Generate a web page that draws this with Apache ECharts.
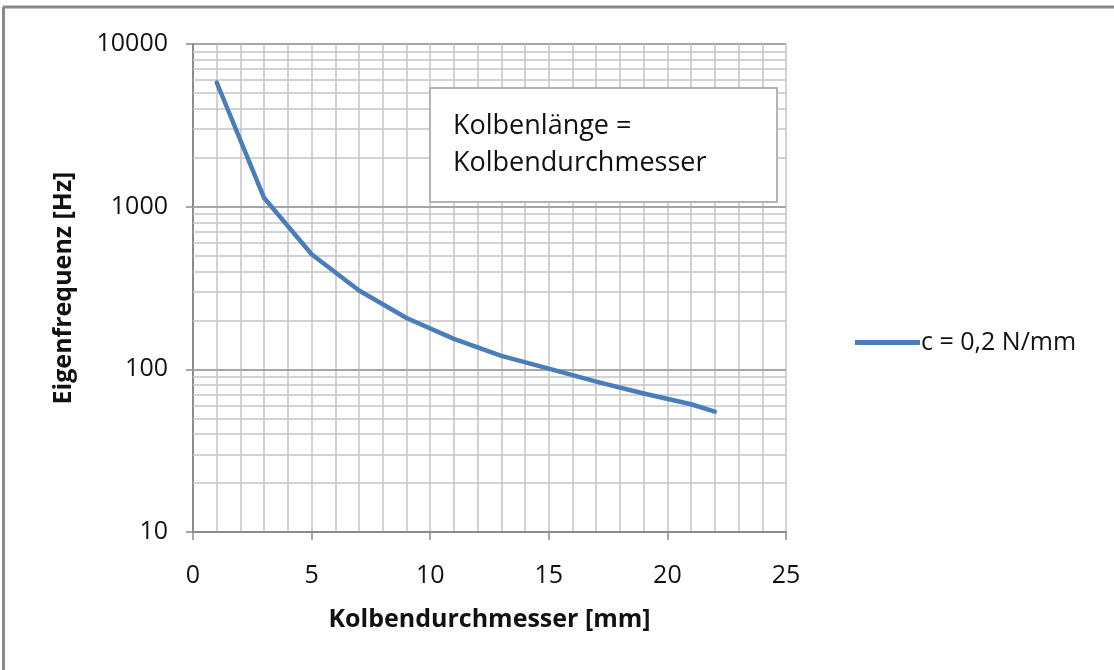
<!DOCTYPE html>
<html>
<head>
<meta charset="utf-8">
<script src="https://cdn.jsdelivr.net/npm/echarts@6/dist/echarts.min.js"></script>
<style>
html,body{margin:0;padding:0;background:#fff;}
#chart{width:1114px;height:670px;}
</style>
</head>
<body>
<div id="chart"></div>
<script>
// Data
const diameters = [1, 3, 5, 7, 9, 11, 13, 15, 17, 19, 21, 22];
const frequencies = [5800, 1130, 510, 305, 207, 154, 121, 101, 84, 71, 61, 55];
const seriesName = 'c = 0,2 N/mm';
const xTitle = 'Kolbendurchmesser [mm]';
const yTitle = 'Eigenfrequenz [Hz]';
const noteText = 'Kolbenlänge =\nKolbendurchmesser';
const yDecades = [10, 100, 1000, 10000];
const yMinorSteps = [2, 3, 4, 5, 6, 7, 8, 9];

const FONT = '"Open Sans", sans-serif';

// minor horizontal grid values (2..9 per decade)
const minorValues = [];
yDecades.slice(0, -1).forEach(d => yMinorSteps.forEach(s => minorValues.push(d * s)));
const majorValues = yDecades.slice(1, -1);

const chart = echarts.init(document.getElementById('chart'), null, {renderer: 'canvas'});
chart.setOption({
  animation: false,
  backgroundColor: '#fff',
  grid: {left: 193, right: 328, top: 44, bottom: 138, containLabel: false},
  xAxis: {
    type: 'value', min: 0, max: 25, interval: 5,
    name: xTitle, nameLocation: 'middle', nameGap: 75,
    nameTextStyle: {fontFamily: FONT, fontSize: 25, fontWeight: 'bold', color: '#111'},
    axisLine: {show: true, lineStyle: {color: '#8c8c8c', width: 2}},
    axisTick: {show: true, length: 8, lineStyle: {color: '#8c8c8c', width: 1.5}},
    axisLabel: {fontFamily: FONT, fontSize: 25, color: '#111', margin: 31},
    splitLine: {show: true, lineStyle: {color: '#c4c4c4', width: 1.5}},
    minorTick: {show: false, splitNumber: 5},
    minorSplitLine: {show: true, lineStyle: {color: '#c4c4c4', width: 1.5}}
  },
  yAxis: {
    type: 'log', logBase: 10, min: 10, max: 10000,
    name: yTitle, nameLocation: 'middle', nameGap: 117,
    nameTextStyle: {fontFamily: FONT, fontSize: 25, fontWeight: 'bold', color: '#111'},
    axisLine: {show: true, lineStyle: {color: '#8c8c8c', width: 2}},
    axisTick: {show: true, length: 7, lineStyle: {color: '#8c8c8c', width: 1.5}},
    axisLabel: {fontFamily: FONT, fontSize: 25, color: '#111', margin: 25,
      formatter: v => String(Math.round(v))},
    splitLine: {show: true, lineStyle: {color: '#a6a6a6', width: 2}}
  },
  legend: {
    show: true, data: [seriesName], left: 850, top: 325, orient: 'vertical',
    icon: 'rect', itemWidth: 65, itemHeight: 5, itemGap: 4,
    textStyle: {fontFamily: FONT, fontSize: 25, color: '#111', padding: [0, 0, 0, -4]}
  },
  series: [
    {
      name: 'grid-minor', type: 'line', z: 1, silent: true,
      data: diameters.map((d, i) => [d, frequencies[i]]),
      symbol: 'none', lineStyle: {opacity: 0},
      markLine: {
        silent: true, symbol: ['none', 'none'], label: {show: false},
        animation: false,
        lineStyle: {color: '#c4c4c4', width: 1.5, type: 'solid'},
        data: minorValues.map(v => ({yAxis: v}))
      }
    },
    {
      name: 'grid-major', type: 'line', z: 1, silent: true,
      data: diameters.map((d, i) => [d, frequencies[i]]),
      symbol: 'none', lineStyle: {opacity: 0},
      markLine: {
        silent: true, symbol: ['none', 'none'], label: {show: false},
        animation: false,
        lineStyle: {color: '#a6a6a6', width: 2, type: 'solid'},
        data: majorValues.map(v => ({yAxis: v}))
      }
    },
    {
      name: seriesName, type: 'line', z: 5,
      data: diameters.map((d, i) => [d, frequencies[i]]),
      symbol: 'none', showSymbol: false,
      lineStyle: {color: '#4a7ebb', width: 4.5, cap: 'round', join: 'round'},
      itemStyle: {color: '#4a7ebb'}
    }
  ],
  graphic: [
    {type: 'line', z: 100, shape: {x1: 3, y1: 7, x2: 1114, y2: 7}, style: {stroke: '#8a8a8a', lineWidth: 3}},
    {type: 'line', z: 100, shape: {x1: 3.5, y1: 7, x2: 3.5, y2: 670}, style: {stroke: '#8a8a8a', lineWidth: 3}},
    {type: 'rect', z: 50, shape: {x: 430, y: 88, width: 347, height: 114},
      style: {fill: '#fff', stroke: '#b4b4b4', lineWidth: 2}},
    {type: 'text', z: 51, left: 453, top: 108,
      style: {text: noteText, font: '27px ' + FONT, fill: '#111', lineHeight: 37}}
  ]
});
</script>
</body>
</html>
